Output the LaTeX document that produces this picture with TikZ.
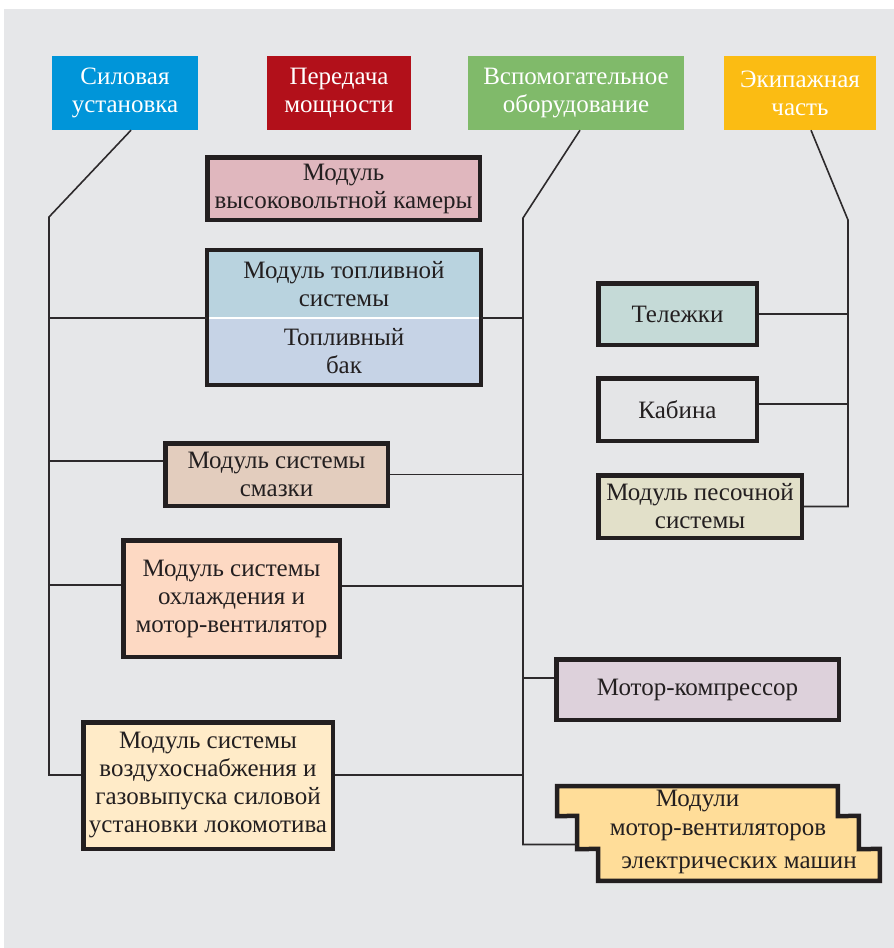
\documentclass[tikz,border=0pt]{standalone}
\usepackage{fontspec}
\setmainfont{Liberation Serif}
\usepackage{tikz}
\usepackage{xcolor}
\usetikzlibrary{calc}
\definecolor{myBlue}{RGB}{0,149,217}
\definecolor{myRed}{RGB}{178,16,26}
\definecolor{myGreen}{RGB}{128,186,106}
\definecolor{myYellow}{RGB}{251,188,19}
\definecolor{myInk}{RGB}{35,31,32}
\definecolor{myWire}{RGB}{45,42,44}
\definecolor{myBack}{RGB}{230,231,233}
\definecolor{mPink}{RGB}{224,183,190}
\definecolor{mSky}{RGB}{185,211,223}
\definecolor{mSteel}{RGB}{198,211,230}
\definecolor{mTan}{RGB}{227,205,190}
\definecolor{mPeach}{RGB}{253,217,195}
\definecolor{mCream}{RGB}{255,235,200}
\definecolor{mSage}{RGB}{197,218,215}
\definecolor{mGrey}{RGB}{228,229,231}
\definecolor{mSand}{RGB}{226,224,201}
\definecolor{mLilac}{RGB}{221,209,219}
\definecolor{mHoney}{RGB}{255,221,153}

\begin{document}
\begin{tikzpicture}[x=1pt, y=-1pt,
  txt/.style={font=\fontsize{25}{28}\selectfont, align=center, inner sep=0pt},
  head/.style={txt, fill=#1, text=white, minimum height=74pt},
  box/.style={txt, draw=myInk, line width=4.5pt, fill=#1, text=myInk},
  strip/.style={txt, fill=mHoney, text=myInk},
  wire/.style={draw=myWire, line width=1.6pt},
]
  % background
  \fill[white] (0,0) rectangle (894,948);
  \fill[myBack] (4,9) rectangle (894,948);

  % top row
  \node[head=myBlue, minimum width=146pt] (power) at (125,93) {Силовая\\установка};
  \node[head=myRed, minimum width=144pt] (trans) at (339,93) {Передача\\мощности};
  \node[head=myGreen, minimum width=216pt] (aux) at (576,93) {Вспомогательное\\оборудование};
  \node[head=myYellow, minimum width=152pt] (crew) at (800,93) {Экипажная\\часть};

  % left and middle column
  \node[box=mPink, minimum width=272.5pt, minimum height=62.5pt] (hv) at (343.5,188.5)
    {Модуль\\высоковольтной камеры};
  \node[txt, fill=mSky, text=myInk, minimum width=273.5pt, minimum height=67.75pt] (fuel) at (344,284.1)
    {Модуль топливной\\системы};
  \node[txt, fill=mSteel, text=myInk, minimum width=273.5pt, minimum height=66.75pt] (tank) at (344,351.4)
    {Топливный\\бак};
  \draw[white, line width=1.5pt] (fuel.south west) -- (fuel.south east);
  \draw[myInk, line width=4.5pt] (fuel.north west) rectangle (tank.south east);
  \node[box=mTan, minimum width=222.5pt, minimum height=62.5pt] (oil) at (276.5,474.5)
    {Модуль системы\\смазки};
  \node[box=mPeach, minimum width=216.5pt, minimum height=116.5pt] (cool) at (231.5,598.5)
    {Модуль системы\\охлаждения и\\мотор-вентилятор};
  \node[box=mCream, minimum width=249.5pt, minimum height=126.5pt] (air) at (208,785.5)
    {Модуль системы\\воздухоснабжения и\\газовыпуска силовой\\установки локомотива};

  % right column
  \node[box=mSage, minimum width=158.5pt, minimum height=61.5pt] (bogie) at (677.5,314) {Тележки};
  \node[box=mGrey, minimum width=158.5pt, minimum height=62.5pt] (cab) at (677.5,409.5) {Кабина};
  \node[box=mSand, minimum width=203.5pt, minimum height=62.5pt] (sand) at (700,506.5)
    {Модуль песочной\\системы};
  \node[box=mLilac, minimum width=282.5pt, minimum height=60.5pt] (comp) at (697.5,689.5)
    {Мотор-компрессор};

  % stepped box
  \node[strip, minimum width=280.5pt, minimum height=29.75pt] (fans1) at (697.5,801.1) {Модули};
  \node[strip, minimum width=281.5pt, minimum height=33pt] (fans2) at (718,832.5) {мотор-вентиляторов};
  \node[strip, minimum width=281.5pt, minimum height=31.75pt] (fans3) at (739,864.9) {электрических машин};
  \draw[myInk, line width=4.5pt, line join=miter]
    (fans1.north west) -- (fans1.north east) -- (fans1.south east) -- (fans2.north east)
    -- (fans2.south east) -- (fans3.north east) -- (fans3.south east) -- (fans3.south west)
    -- (fans3.north west) -- (fans2.south west) -- (fans2.north west) -- (fans1.south west) -- cycle;

  % buses
  \coordinate (lk) at (49,217);
  \coordinate (mk) at (523,218);
  \coordinate (rk) at (848,220);
  \coordinate (airL) at ([yshift=10.5pt]air.west);
  \coordinate (airR) at ([yshift=10.5pt]air.east);
  \coordinate (fansL) at ([yshift=-12pt]fans2.west);
  \coordinate (oilL) at ([yshift=13.5pt]oil.west);
  \coordinate (coolL) at ([yshift=13.5pt]cool.west);
  \coordinate (coolR) at ([yshift=12.5pt]cool.east);
  \coordinate (compL) at ([yshift=11.5pt]comp.west);
  \coordinate (cabR) at ([yshift=5.5pt]cab.east);
  \draw[wire] ([xshift=6pt]power.south) -- (lk) -- (lk |- airL) -- (airL);
  \draw[wire] ([xshift=4pt]aux.south) -- (mk) -- (mk |- fansL) -- (fansL);
  \draw[wire] ([xshift=11pt]crew.south) -- (rk) -- (rk |- sand.east) -- (sand.east);

  % branches
  \draw[wire] (fuel.south west) -- (fuel.south west -| lk);
  \draw[wire] (oilL) -- (oilL -| lk);
  \draw[wire] (coolL) -- (coolL -| lk);
  \draw[wire] (fuel.south east) -- (fuel.south east -| mk);
  \draw[wire] (oil.east) -- (oil.east -| mk);
  \draw[wire] (coolR) -- (coolR -| mk);
  \draw[wire] (compL) -- (compL -| mk);
  \draw[wire] (airR) -- (airR -| mk);
  \draw[wire] (bogie.east) -- (bogie.east -| rk);
  \draw[wire] (cabR) -- (cabR -| rk);
\end{tikzpicture}
\end{document}
